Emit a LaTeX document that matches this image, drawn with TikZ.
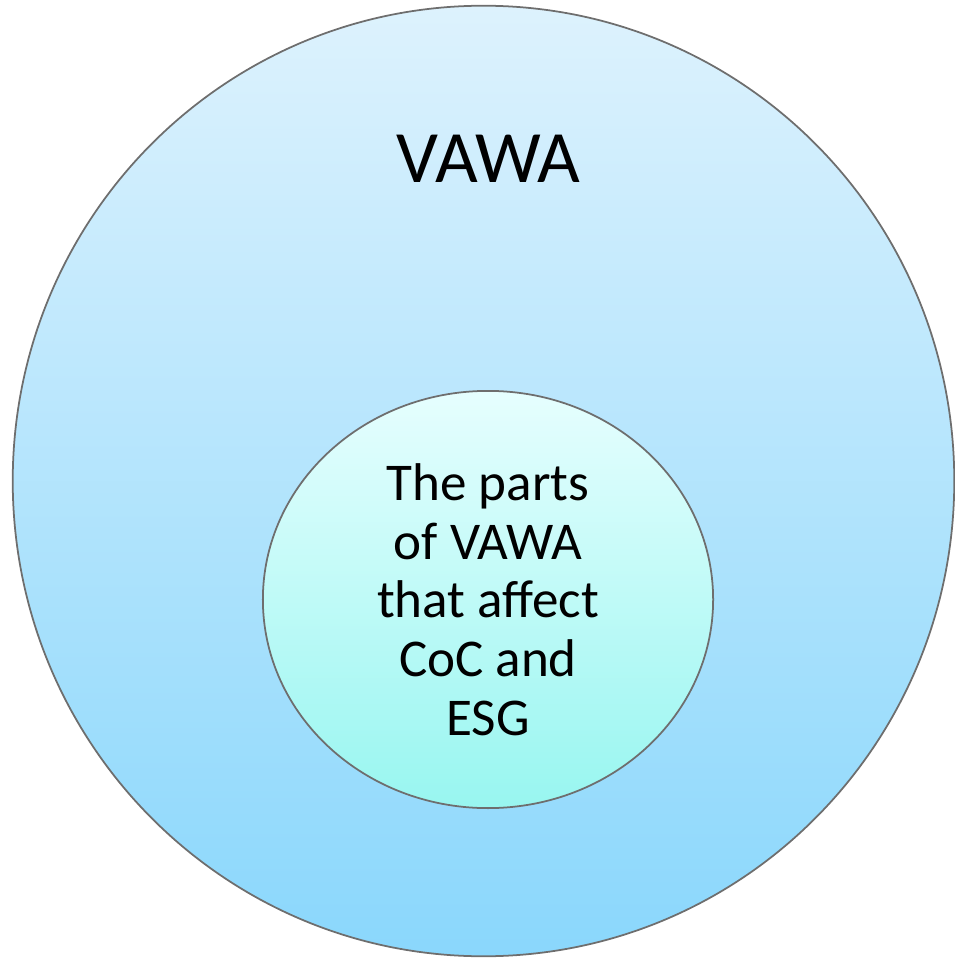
\documentclass[tikz,border=0pt]{standalone}
\usepackage{fontspec}
\setmainfont{Carlito}
\usetikzlibrary{shapes.geometric}
\definecolor{vawatop}{RGB}{221, 242, 253}
\definecolor{vawabottom}{RGB}{138, 215, 252}
\definecolor{partstop}{RGB}{230, 254, 254}
\definecolor{partsbottom}{RGB}{152, 246, 240}
\definecolor{vawaline}{RGB}{110, 110, 110}

\begin{document}
\begin{tikzpicture}[x=0.01cm, y=-0.01cm]
\useasboundingbox (0,0) rectangle (954,958);
% Outer circle
\node[ellipse, draw=vawaline, line width=0.5pt, top color=vawatop, bottom color=vawabottom,
      minimum width=9.41cm, minimum height=9.5cm, inner sep=0pt] (vawa) at (483.5,481) {};
\node[font=\fontsize{21}{25}\selectfont, anchor=base] (vawatitle) at (488.5,182.5) {VAWA};
% Inner circle
\node[ellipse, draw=vawaline, line width=0.5pt, top color=partstop, bottom color=partsbottom,
      minimum width=4.5cm, minimum height=4.17cm, inner sep=0pt, align=center,
      font=\fontsize{15.1}{16.7}\selectfont] (parts) at (488,599.5) {
    The parts\\
    of VAWA\\
    that affect\\
    CoC and\\
    ESG
};
\end{tikzpicture}
\end{document}
